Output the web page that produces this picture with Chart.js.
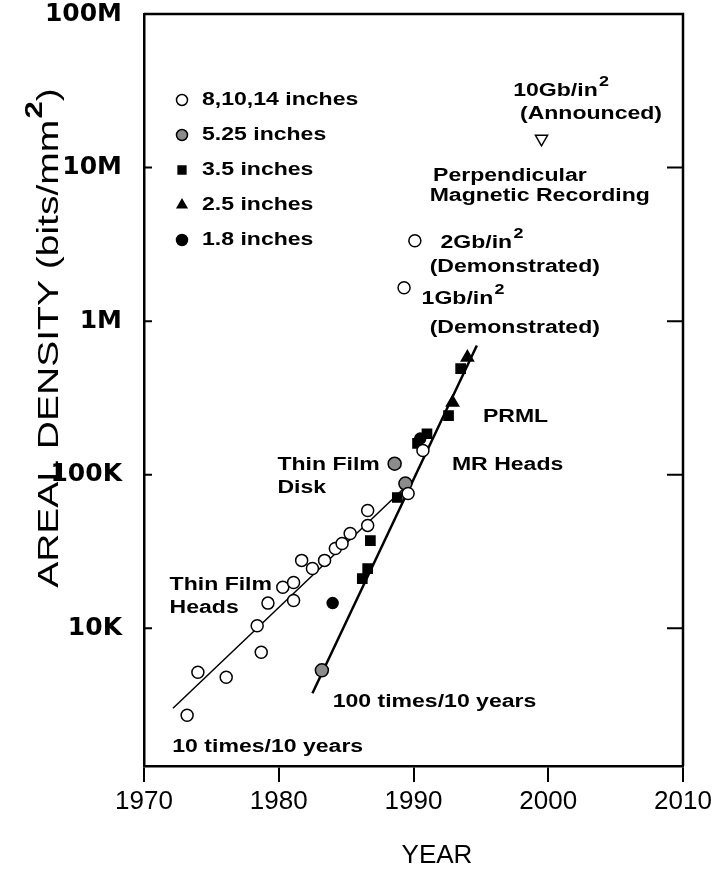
<!DOCTYPE html>
<html>
<head>
<meta charset="utf-8">
<script src="https://cdn.jsdelivr.net/npm/chart.js@4.4.1/dist/chart.umd.min.js"></script>
<style>
  html, body { margin: 0; padding: 0; background: #fff; }
  #wrap { width: 720px; height: 874px; }
</style>
</head>
<body>
<div id="wrap"><canvas id="chart" width="720" height="874"></canvas></div>
<script>
// 8, 10, 14 inch drives (open circles)
const bigYears  = [1973.2, 1974.0, 1976.1, 1978.7, 1978.4, 1979.2, 1980.3, 1981.1, 1981.1, 1981.7,
                   1982.5, 1983.4, 1984.2, 1984.7, 1985.3, 1986.6, 1986.6, 1989.6, 1990.7, 1989.3, 1990.1];
const bigValues = [2720, 5180, 4800, 6980, 10400, 14600, 18500, 19900, 15200, 27700,
                   24500, 27700, 33100, 35700, 41500, 46800, 58500, 75500, 144000, 1650000, 3340000];
// 5.25 inch drives (shaded circles)
const midYears  = [1983.2, 1988.6, 1989.4];
const midValues = [5330, 118000, 87700];
// 3.5 inch drives (filled squares)
const smallYears  = [1986.2, 1986.6, 1986.8, 1988.8, 1990.3, 1991.0, 1992.6, 1993.5];
const smallValues = [21100, 24500, 37300, 71100, 160000, 185000, 243000, 491000];
// 2.5 inch drives (triangles)
const tinyYears  = [1992.9, 1994.0];
const tinyValues = [295000, 580000];
// 1.8 inch drives (filled circles)
const microYears  = [1984.0, 1990.5];
const microValues = [14600, 172000];
// 10Gb/in2 announced, perpendicular recording
const perpYears  = [1999.5];
const perpValues = [15400000];
// trend lines
const slowYears  = [1972.15, 1989.9];
const slowValues = [3020, 91800];
const fastYears  = [1982.5, 1994.7];
const fastValues = [3780, 694000];

const xTickValues = [1970, 1980, 1990, 2000, 2010];
const yTickValues = [1e4, 1e5, 1e6, 1e7, 1e8];
const yTickLabels = ['10K', '100K', '1M', '10M', '100M'];

const legendLabels = ['8,10,14 inches', '5.25 inches', '3.5 inches', '2.5 inches', '1.8 inches'];

// text notes: [text, year, value]  (^ marks a superscript)
const notes = [
  ['10Gb/in^2', 1997.4, 3.16e7],
  ['(Announced)', 1997.9, 2.24e7],
  ['Perpendicular', 1991.45, 8.83e6],
  ['Magnetic Recording', 1991.2, 6.55e6],
  ['2Gb/in^2', 1992.0, 3.24e6],
  ['(Demonstrated)', 1991.2, 2.26e6],
  ['1Gb/in^2', 1990.6, 1.40e6],
  ['(Demonstrated)', 1991.2, 9.08e5],
  ['PRML', 1995.15, 2.36e5],
  ['MR Heads', 1992.85, 1.15e5],
  ['Thin Film', 1979.9, 1.15e5],
  ['Disk', 1979.9, 8.15e4],
  ['Thin Film', 1971.9, 1.91e4],
  ['Heads', 1971.9, 1.35e4],
  ['100 times/10 years', 1984.0, 3300],
  ['10 times/10 years', 1972.1, 1680]
];

const TEXT_FONT = '"Liberation Sans", Arial, sans-serif';
const STRETCH = 1.28;

function pts(xs, ys) {
  return xs.map((x, i) => ({ x: x, y: ys[i] }));
}

// text with ^x superscripts, widened sideways like the scanned lettering
function wideText(ctx, str, x, y, font, size, align, stretch, angle) {
  const parts = str.split(/\^(.)/);
  ctx.save();
  ctx.translate(x, y);
  if (angle) ctx.rotate(angle);
  ctx.scale(stretch, 1);
  ctx.fillStyle = '#000';
  ctx.textBaseline = 'middle';
  ctx.textAlign = 'left';
  let total = 0;
  parts.forEach((p, i) => {
    ctx.font = (i % 2 ? 'bold ' + Math.round(size * 0.8) : font + ' ' + size) + 'px ' + TEXT_FONT;
    total += ctx.measureText(p).width + (i % 2 ? 1 : 0);
  });
  let cx = align === 'center' ? -total / 2 : 0;
  parts.forEach((p, i) => {
    const sup = i % 2 === 1;
    ctx.font = (sup ? 'bold ' + Math.round(size * 0.8) : font + ' ' + size) + 'px ' + TEXT_FONT;
    ctx.fillText(p, cx + (sup ? 1 : 0), sup ? -size * 0.5 : 0);
    cx += ctx.measureText(p).width + (sup ? 1 : 0);
  });
  ctx.restore();
}

const pointStyles = [
  { pointStyle: 'circle', backgroundColor: '#fff', radius: 6 },
  { pointStyle: 'circle', backgroundColor: '#8c8c8c', radius: 6.5 },
  { pointStyle: 'rect', backgroundColor: '#000', radius: 6.5 },
  { pointStyle: 'triangle', backgroundColor: '#000', radius: 7 },
  { pointStyle: 'circle', backgroundColor: '#000', radius: 5.5 }
];

const frame = {
  id: 'frame',
  afterDatasetsDraw(chart) {
    const ctx = chart.ctx;
    const a = chart.chartArea;
    const ys = chart.scales.y;

    ctx.save();
    ctx.strokeStyle = '#000';
    ctx.lineWidth = 2.5;
    ctx.beginPath();
    ctx.moveTo(a.left, a.top);
    ctx.lineTo(a.right, a.top);
    ctx.lineTo(a.right, a.bottom);
    ctx.stroke();

    // inward ticks on both sides
    ctx.lineWidth = 2;
    yTickValues.forEach(v => {
      const py = ys.getPixelForValue(v);
      if (py <= a.top + 1) return;
      ctx.beginPath();
      ctx.moveTo(a.left, py);
      ctx.lineTo(a.left + 8, py);
      ctx.moveTo(a.right, py);
      ctx.lineTo(a.right - 16, py);
      ctx.stroke();
    });
    ctx.restore();

    // notes
    notes.forEach(n => {
      wideText(ctx, n[0], chart.scales.x.getPixelForValue(n[1]), ys.getPixelForValue(n[2]),
               'bold', 18, 'left', STRETCH);
    });

    // legend
    legendLabels.forEach((label, i) => {
      const st = pointStyles[i];
      const px = a.left + 38;
      const py = a.top + 86 + i * 35;
      ctx.save();
      ctx.fillStyle = st.backgroundColor;
      ctx.strokeStyle = '#000';
      ctx.lineWidth = 1.5;
      Chart.helpers.drawPoint(ctx, { pointStyle: st.pointStyle, radius: 5.5, rotation: 0, borderWidth: 1.5 }, px, py);
      ctx.restore();
      wideText(ctx, label, px + 20, py, 'bold', 18, 'left', STRETCH);
    });

    // axis titles
    wideText(ctx, 'AREAL DENSITY (bits/mm^2)', 50, 338, 'normal', 30, 'center', 1.3, -Math.PI / 2);
    wideText(ctx, 'YEAR', 437, 856, 'normal', 26, 'center', 1.0);
  }
};

function series(xs, ys, i) {
  const st = pointStyles[i];
  return {
    label: legendLabels[i],
    data: pts(xs, ys),
    pointStyle: st.pointStyle,
    pointRadius: st.radius,
    pointBackgroundColor: st.backgroundColor,
    pointBorderColor: '#000',
    pointBorderWidth: 1.5,
    showLine: false
  };
}

new Chart(document.getElementById('chart'), {
  type: 'scatter',
  data: {
    datasets: [
      series(bigYears, bigValues, 0),
      series(midYears, midValues, 1),
      series(smallYears, smallValues, 2),
      series(tinyYears, tinyValues, 3),
      series(microYears, microValues, 4),
      {
        label: '10Gb/in2',
        data: pts(perpYears, perpValues),
        pointStyle: 'triangle',
        rotation: 180,
        pointRadius: 7,
        pointBackgroundColor: '#fff',
        pointBorderColor: '#000',
        pointBorderWidth: 1.5
      },
      {
        label: '10 times/10 years',
        data: pts(slowYears, slowValues),
        showLine: true,
        pointRadius: 0,
        borderColor: '#000',
        borderWidth: 1.5
      },
      {
        label: '100 times/10 years',
        data: pts(fastYears, fastValues),
        showLine: true,
        pointRadius: 0,
        borderColor: '#000',
        borderWidth: 2.5
      }
    ]
  },
  options: {
    responsive: false,
    animation: false,
    layout: { padding: { top: 0, right: 37, left: 0, bottom: 0 } },
    plugins: {
      legend: { display: false },
      tooltip: { enabled: false }
    },
    scales: {
      x: {
        type: 'linear',
        min: 1970,
        max: 2010,
        afterFit(scale) { scale.height = 108; },
        afterBuildTicks(scale) {
          scale.ticks = xTickValues.map(v => ({ value: v }));
        },
        border: { display: true, color: '#000', width: 2.5 },
        grid: { drawOnChartArea: false, drawTicks: true, tickLength: 16, color: '#000', lineWidth: 2 },
        ticks: {
          color: '#000',
          padding: 4,
          font: { family: TEXT_FONT, size: 26 },
          callback: v => String(v)
        }
      },
      y: {
        type: 'logarithmic',
        min: 1270,
        max: 1e8,
        afterFit(scale) {
          scale.width = 144;
          scale.paddingTop = 14;
          scale.paddingBottom = 14;
        },
        afterBuildTicks(scale) {
          scale.ticks = yTickValues.map(v => ({ value: v }));
        },
        border: { display: true, color: '#000', width: 2.5 },
        grid: { drawOnChartArea: false, drawTicks: false },
        ticks: {
          color: '#000',
          padding: 22,
          font: { family: '"DejaVu Sans", sans-serif', size: 25, weight: 'bold' },
          callback: v => yTickLabels[yTickValues.indexOf(v)] || ''
        }
      }
    }
  },
  plugins: [frame]
});
</script>
</body>
</html>
